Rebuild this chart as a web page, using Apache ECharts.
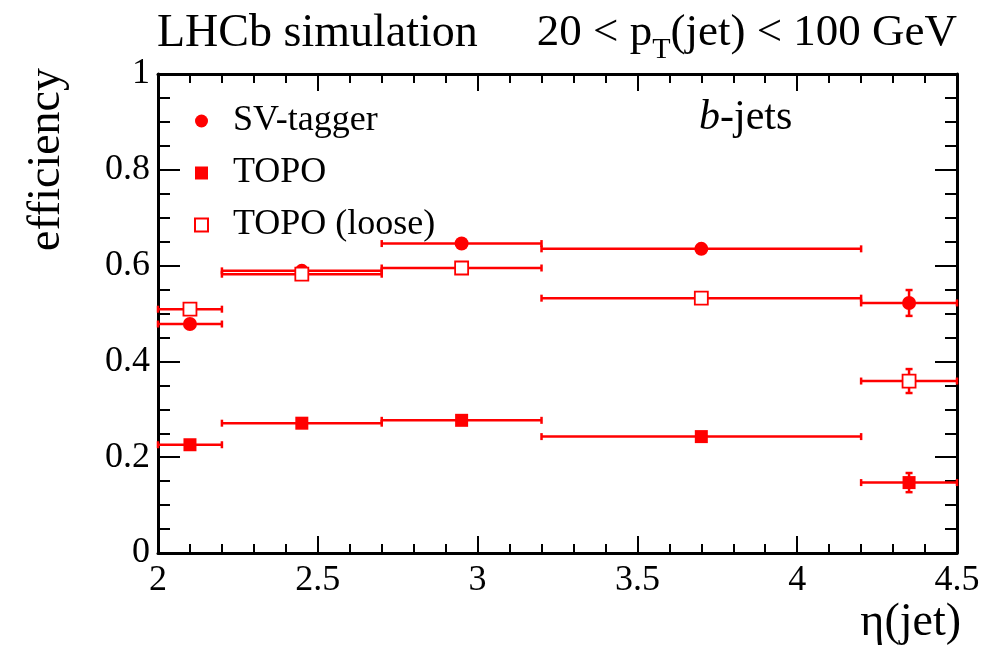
<!DOCTYPE html>
<html>
<head>
<meta charset="utf-8">
<script src="https://cdn.jsdelivr.net/npm/echarts@6/dist/echarts.min.js"></script>
<style>
  html, body { margin: 0; padding: 0; background: #fff; }
  #chart { width: 985px; height: 652px; }
</style>
</head>
<body>
<div id="chart"></div>
<script>
// eta(jet) bins and mean eta per bin
const binLow  = [2.0, 2.2, 2.7, 3.2, 4.2];
const binHigh = [2.2, 2.7, 3.2, 4.2, 4.5];
const etaMean = [2.10, 2.45, 2.95, 3.70, 4.35];

// b-jet efficiencies and their statistical uncertainties
const svTagger    = [0.478, 0.589, 0.646, 0.635, 0.522];
const svTaggerErr = [0.005, 0.005, 0.005, 0.006, 0.027];
const topo        = [0.226, 0.271, 0.277, 0.243, 0.147];
const topoErr     = [0.004, 0.004, 0.004, 0.005, 0.020];
const topoLoose    = [0.509, 0.582, 0.595, 0.532, 0.359];
const topoLooseErr = [0.005, 0.005, 0.005, 0.006, 0.025];

const xTicks = [2, 2.5, 3, 3.5, 4, 4.5];
const yTicks = [0, 0.2, 0.4, 0.6, 0.8, 1];

const RED = '#ff0000';
const FONT = '"Liberation Serif", "Times New Roman", serif';

function errData(vals, errs) {
  return vals.map((v, i) => [etaMean[i], v, binLow[i], binHigh[i], errs[i]]);
}
function pointData(vals) {
  return vals.map((v, i) => [etaMean[i], v]);
}

// Horizontal bin-width bar plus vertical error bar, each with end caps
function renderErr(params, api) {
  const xm = api.value(0), y = api.value(1);
  const lo = api.value(2), hi = api.value(3), e = api.value(4);
  const pL = api.coord([lo, y]);
  const pR = api.coord([hi, y]);
  const pT = api.coord([xm, y + e]);
  const pB = api.coord([xm, y - e]);
  const cap = 3.5;
  const st = { stroke: RED, lineWidth: 2.5 };
  const line = (x1, y1, x2, y2) => ({ type: 'line', shape: { x1, y1, x2, y2 }, style: st });
  return {
    type: 'group',
    children: [
      line(pL[0], pL[1], pR[0], pR[1]),
      line(pL[0], pL[1] - cap, pL[0], pL[1] + cap),
      line(pR[0], pR[1] - cap, pR[0], pR[1] + cap),
      line(pT[0], pT[1], pB[0], pB[1]),
      line(pT[0] - cap, pT[1], pT[0] + cap, pT[1]),
      line(pB[0] - cap, pB[1], pB[0] + cap, pB[1])
    ]
  };
}

function axisCommon(pos, showLabel, isX) {
  return {
    type: 'value',
    position: pos,
    min: isX ? xTicks[0] : yTicks[0],
    max: isX ? xTicks[xTicks.length - 1] : yTicks[yTicks.length - 1],
    interval: isX ? 0.5 : 0.2,
    splitLine: { show: false },
    axisLine: { show: true, onZero: false, lineStyle: { color: '#000', width: 3 } },
    axisTick: { show: true, inside: true, length: isX ? 17 : 22, lineStyle: { color: '#000', width: 2 } },
    minorTick: { show: true, splitNumber: isX ? 5 : 4, length: isX ? 9 : 12, lineStyle: { color: '#000', width: 2 } },
    axisLabel: {
      show: showLabel,
      color: '#000',
      fontFamily: FONT,
      fontSize: 36,
      margin: isX ? 10 : 8
    }
  };
}

const chart = echarts.init(document.getElementById('chart'), null, { renderer: 'canvas' });

chart.setOption({
  animation: false,
  backgroundColor: '#fff',
  grid: { left: 158, right: 28, top: 74, bottom: 99 },
  xAxis: [axisCommon('bottom', true, true), axisCommon('top', false, true)],
  yAxis: [axisCommon('left', true, false), axisCommon('right', false, false)],
  legend: {
    orient: 'vertical',
    left: 189,
    top: 98,
    itemWidth: 13,
    itemHeight: 13,
    itemGap: 16,
    data: ['SV-tagger', 'TOPO', 'TOPO (loose)'],
    textStyle: { fontFamily: FONT, fontSize: 36, color: '#000', padding: [0, 0, 0, 20] }
  },
  graphic: [
    {
      type: 'text', left: 157, top: 11,
      style: { text: 'LHCb simulation', font: '46px ' + FONT, fill: '#000' }
    },
    {
      type: 'text', right: 28, top: 11,
      style: {
        text: '{n|20 < p}{s|T}{n|(jet) < 100 GeV}',
        fill: '#000',
        rich: {
          n: { font: '45px ' + FONT, fill: '#000' },
          s: { font: '30px ' + FONT, fill: '#000', padding: [34, 0, 0, 0] }
        }
      }
    },
    {
      type: 'text', left: 699, top: 97,
      style: {
        text: '{i|b}{n|-jets}',
        rich: {
          i: { font: 'italic 42px ' + FONT, fill: '#000' },
          n: { font: '42px ' + FONT, fill: '#000' }
        }
      }
    },
    {
      type: 'text', x: 47, y: 68, rotation: Math.PI / 2,
      style: { text: 'efficiency', font: '46px ' + FONT, fill: '#000', align: 'right', verticalAlign: 'middle' }
    },
    {
      type: 'text', right: 24, top: 600,
      style: { text: 'η(jet)', font: '46px ' + FONT, fill: '#000' }
    }
  ],
  series: [
    { type: 'custom', renderItem: renderErr, data: errData(svTagger, svTaggerErr), z: 2, silent: true },
    { type: 'custom', renderItem: renderErr, data: errData(topo, topoErr), z: 2, silent: true },
    { type: 'custom', renderItem: renderErr, data: errData(topoLoose, topoLooseErr), z: 2, silent: true },
    {
      name: 'SV-tagger', type: 'scatter', symbol: 'circle', symbolSize: 14, z: 5,
      itemStyle: { color: RED, opacity: 1 }, data: pointData(svTagger)
    },
    {
      name: 'TOPO', type: 'scatter', symbol: 'rect', symbolSize: 13, z: 5,
      itemStyle: { color: RED, opacity: 1 }, data: pointData(topo)
    },
    {
      name: 'TOPO (loose)', type: 'scatter', symbol: 'rect', symbolSize: 13, z: 5,
      itemStyle: { color: '#fff', borderColor: RED, borderWidth: 1.8, opacity: 1 }, data: pointData(topoLoose)
    }
  ]
});
</script>
</body>
</html>
